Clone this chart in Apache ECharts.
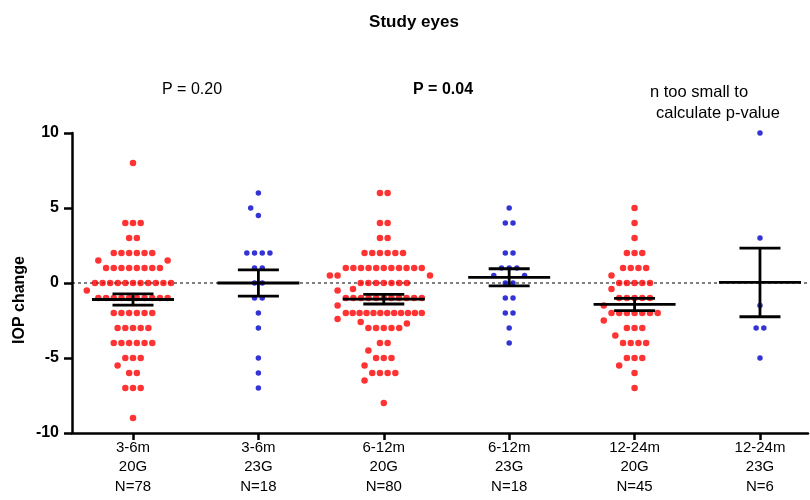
<!DOCTYPE html>
<html>
<head>
<meta charset="utf-8">
<script src="https://cdn.jsdelivr.net/npm/echarts@6/dist/echarts.min.js"></script>
<style>
  html, body { margin: 0; padding: 0; background: #fff; }
  #chart { width: 810px; height: 500px; }
</style>
</head>
<body>
<div id="chart"></div>
<script>
// Study eyes - IOP change per follow-up window and gauge

const periods = ['3-6m', '3-6m', '6-12m', '6-12m', '12-24m', '12-24m'];
const gauges = ['20G', '23G', '20G', '23G', '20G', '23G'];
const counts = [78, 18, 80, 18, 45, 6];

// one value per dot
const g3to6m20G = [8, 4, 4, 4, 3, 3, 2, 2, 2, 2, 2, 2, 1.5, 1.5,
    1, 1, 1, 1, 1, 1, 1, 1, 0, 0, 0, 0, 0, 0, 0, 0, 0, 0, 0, -0.5,
    -1, -1, -1, -1, -1, -1, -1, -1, -1, -1, -2, -2, -2, -2, -2, -2,
    -3, -3, -3, -3, -3, -4, -4, -4, -4, -4, -4, -5, -5, -5, -5.5,
    -6, -6, -7, -7, -7, -9];
const g3to6m23G = [6, 5, 4.5, 2, 2, 2, 2, 1, 1, 0, 0, -1, -1, -2, -3, -5, -6, -7];
const g6to12m20G = [6, 6, 4, 4, 3, 3, 2, 2, 2, 2, 2, 2,
    1, 1, 1, 1, 1, 1, 1, 1, 1, 1, 1, 0.5, 0.5, 0.5, 0, 0, 0, 0, 0, 0, 0,
    -0.4, -0.5, -1, -1, -1, -1, -1, -1, -1, -1, -1, -1, -1, -1.5,
    -2, -2, -2, -2, -2, -2, -2, -2, -2, -2, -2, -2, -2.6, -2.7, -2.4,
    -3, -3, -3, -3, -3, -4, -4, -4.5, -5, -5, -5, -5.5, -6, -6, -6, -6, -6.5, -8];
const g6to12m23G = [5, 4, 4, 2, 2, 1, 1, 1, 0.5, 0.5, 0, 0, -1, -1, -2, -2, -3, -4];
const g12to24m20G = [5, 4, 3, 2, 2, 2, 1, 1, 1, 1, 0.5, 0, 0, 0, 0, 0, -0.4,
    -1, -1, -1, -1, -1, -1.5, -2, -2, -2, -2, -2, -2, -2, -2.5, -3, -3, -3, -3.5,
    -4, -4, -4, -4, -5, -5, -5, -5.5, -6, -7];
const g12to24m23G = [10, 3, -1.5, -3, -3, -5];

// mean and SEM bars as drawn
const means = [-1.1, 0.0, -1.08, 0.38, -1.43, 0.04];
const sems = [0.37, 0.87, 0.32, 0.57, 0.41, 2.29];

const pTexts = ['P = 0.20', 'P = 0.04', 'n too small to', 'calculate p-value'];

const groups = [g3to6m20G, g3to6m23G, g6to12m20G, g6to12m23G, g12to24m20G, g12to24m23G];
const dotColors = ['#ff0000', '#0000cc'];

const FONT = '"Liberation Sans", Arial, sans-serif';
const gridLeft = 72, gridRight = 2, gridTop = 133, gridBottom = 67;
const xMin = 0.5136, xMax = 6.383;
const pxX = (810 - gridLeft - gridRight) / (xMax - xMin);
const pxY = (500 - gridTop - gridBottom) / 20;

// column scatter: same values in a centred row, near rows pushed aside
function swarm(values, step, maxW) {
    const rows = {};
    values.forEach(v => { (rows[v] = rows[v] || []).push(v); });
    const keys = Object.keys(rows).map(Number)
        .sort((a, b) => rows[b].length - rows[a].length || Math.abs(a) - Math.abs(b));
    const placed = [];
    const hits = (x, y, s) => placed.some(p => {
        const dy = Math.abs(p.y - y);
        if (dy < 0.01) return Math.abs(p.x - x) < s - 0.5;
        return dy < 8 && Math.abs(p.x - x) < step - 0.5;
    });
    keys.forEach(v => {
        const n = rows[v].length;
        const y = v * pxY;
        let s = step;
        if ((n - 1) * s > maxW) s = maxW / (n - 1);
        const xs = [];
        for (let i = 0; i < n; i++) xs.push((i - (n - 1) / 2) * s);
        if (!xs.some(x => hits(x, y, s))) {
            xs.forEach(x => placed.push({ x, y, v }));
            return;
        }
        for (let i = 0; i < n; i++) {
            for (let k = 0; k < 40; k++) {
                const off = (k % 2 ? 1 : -1) * Math.ceil(k / 2) * step / 2;
                const x = k === 0 ? 0 : -off;
                if (!hits(x, y, step)) { placed.push({ x, y, v }); break; }
            }
        }
    });
    return placed;
}

const chart = echarts.init(document.getElementById('chart'));

const dotSeries = groups.map((vals, gi) => ({
    type: 'scatter',
    symbol: 'circle',
    symbolSize: gi % 2 ? 5.5 : 6.5,
    itemStyle: { color: dotColors[gi % 2] },
    z: 3,
    silent: true,
    data: swarm(vals, 7.7, 76).map(p => [gi + 1 + p.x / pxX, p.v])
}));

const option = {
    animation: false,
    grid: { left: gridLeft, right: gridRight, top: gridTop, bottom: gridBottom },
    xAxis: {
        type: 'value',
        min: xMin,
        max: xMax,
        splitLine: { show: false },
        axisLine: { onZero: false, lineStyle: { color: '#000', width: 2.5 } },
        axisTick: { customValues: [1, 2, 3, 4, 5, 6], length: 7, lineStyle: { color: '#000', width: 2.5 } },
        axisLabel: {
            customValues: [1, 2, 3, 4, 5, 6],
            margin: 5,
            color: '#000',
            fontFamily: FONT,
            fontSize: 15,
            lineHeight: 19.5,
            formatter: v => periods[v - 1] + '\n' + gauges[v - 1] + '\nN=' + counts[v - 1]
        }
    },
    yAxis: {
        type: 'value',
        min: -10,
        max: 10,
        interval: 5,
        splitLine: { show: false },
        axisLine: { show: true, onZero: false, lineStyle: { color: '#000', width: 2.5 } },
        axisTick: { show: true, length: 8, lineStyle: { color: '#000', width: 2.5 } },
        axisLabel: { margin: 13, color: '#000', fontFamily: FONT, fontSize: 16, fontWeight: 'bold' }
    },
    graphic: [
        { type: 'text', x: 414, y: 22, style: { text: 'Study eyes', fill: '#000', font: 'bold 17px ' + FONT, align: 'center', verticalAlign: 'middle' } },
        { type: 'text', x: 20, y: 300, rotation: Math.PI / 2, style: { text: 'IOP change', fill: '#000', font: 'bold 16px ' + FONT, align: 'center', verticalAlign: 'middle' } },
        { type: 'text', x: 192, y: 90, style: { text: pTexts[0], fill: '#000', font: '16px ' + FONT, align: 'center', verticalAlign: 'middle' } },
        { type: 'text', x: 443, y: 90, style: { text: pTexts[1], fill: '#000', font: 'bold 16px ' + FONT, align: 'center', verticalAlign: 'middle' } },
        { type: 'text', x: 650, y: 92, style: { text: pTexts[2], fill: '#000', font: '16.5px ' + FONT, align: 'left', verticalAlign: 'middle' } },
        { type: 'text', x: 656, y: 113, style: { text: pTexts[3], fill: '#000', font: '16.5px ' + FONT, align: 'left', verticalAlign: 'middle' } }
    ],
    series: [
        {
            type: 'line',
            silent: true,
            symbol: 'none',
            z: 1,
            lineStyle: { color: '#000', width: 1, type: [3, 3] },
            data: [[xMin, 0], [xMax, 0]]
        },
        ...dotSeries,
        {
            type: 'custom',
            silent: true,
            z: 5,
            data: means.map((m, i) => [i + 1, m, sems[i]]),
            renderItem: (params, api) => {
                const gx = api.value(0), m = api.value(1), s = api.value(2);
                const a = api.coord([gx - 0.327, m]), b = api.coord([gx + 0.327, m]);
                const hi = api.coord([gx, m + s]), lo = api.coord([gx, m - s]);
                const cap = 0.1635 * pxX;
                const st = { stroke: '#000', lineWidth: 2.8 };
                return {
                    type: 'group',
                    children: [
                        { type: 'line', shape: { x1: a[0], y1: a[1], x2: b[0], y2: b[1] }, style: st },
                        { type: 'line', shape: { x1: hi[0], y1: hi[1], x2: lo[0], y2: lo[1] }, style: st },
                        { type: 'line', shape: { x1: hi[0] - cap, y1: hi[1], x2: hi[0] + cap, y2: hi[1] }, style: st },
                        { type: 'line', shape: { x1: lo[0] - cap, y1: lo[1], x2: lo[0] + cap, y2: lo[1] }, style: st }
                    ]
                };
            }
        }
    ]
};

chart.setOption(option);
</script>
</body>
</html>
